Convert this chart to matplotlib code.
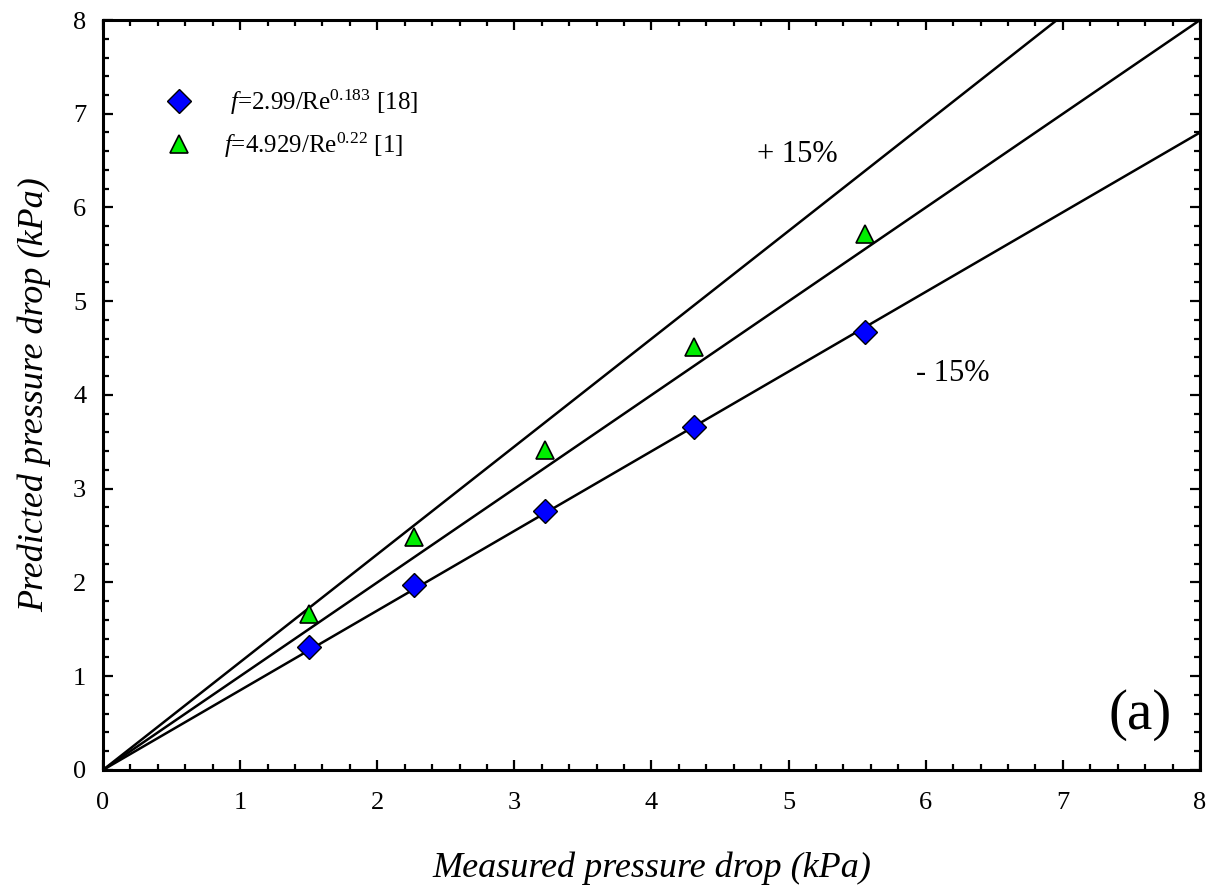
import matplotlib
matplotlib.use("Agg")
import matplotlib.pyplot as plt
import numpy as np
from matplotlib.ticker import MultipleLocator

plt.rcParams['font.family'] = ['Liberation Serif', 'DejaVu Serif']
plt.rcParams['mathtext.fontset'] = 'custom'
plt.rcParams['mathtext.rm'] = 'Liberation Serif'
plt.rcParams['mathtext.it'] = 'Liberation Serif:italic'

# Data
measured = [1.50, 2.27, 3.22, 4.31, 5.56]
pred_f1 = [1.31, 1.97, 2.76, 3.66, 4.67]   # f=2.99/Re^0.183 [18]
pred_f2 = [1.66, 2.49, 3.41, 4.51, 5.72]   # f=4.929/Re^0.22 [1]
label_f1 = r" $\it{f}$=2.99/Re$^{0.183}$ [18]"
label_f2 = r"$\it{f}$=4.929/Re$^{0.22}$ [1]"
ref_factors = [1.15, 1.0, 0.85]
x_ticks = [0, 1, 2, 3, 4, 5, 6, 7, 8]
y_ticks = [0, 1, 2, 3, 4, 5, 6, 7, 8]

fig = plt.figure(figsize=(12.14, 8.89), dpi=100)
ax = fig.add_axes([0.0848, 0.1339, 0.9037, 0.8436])

xx = np.array([0.0, 8.0])
for k in ref_factors:
    ax.plot(xx, k * xx, color='black', lw=1.8, zorder=2)

ax.plot(measured, pred_f1, linestyle='none', marker='D', ms=12,
        markerfacecolor='#0000ff', markeredgecolor='black', markeredgewidth=1.0,
        label=label_f1, zorder=3)
ax.plot(measured, pred_f2, linestyle='none', marker='^', ms=13,
        markerfacecolor='#00ee00', markeredgecolor='black', markeredgewidth=1.2,
        label=label_f2, zorder=3)

ax.set_xlim(0, 8)
ax.set_ylim(0, 8)
ax.set_xticks(x_ticks)
ax.set_yticks(y_ticks)
ax.xaxis.set_minor_locator(MultipleLocator(0.2))
ax.yaxis.set_minor_locator(MultipleLocator(0.2))
ax.tick_params(which='both', direction='in', top=True, right=True, width=1.6)
ax.tick_params(which='major', length=7, labelsize=19)
ax.tick_params(axis='x', which='major', pad=16)
ax.tick_params(axis='y', which='major', pad=12)
ax.tick_params(which='minor', length=4)
for s in ax.spines.values():
    s.set_linewidth(2.2)

ax.set_xlabel('Measured pressure drop (kPa)', fontsize=26, style='italic', labelpad=27)
ax.set_ylabel('Predicted pressure drop (kPa)', fontsize=26, style='italic', labelpad=16)

ax.text(5.06, 6.56, '+ 15%', fontsize=22, ha='center', va='center')
ax.text(6.2, 4.23, '- 15%', fontsize=22, ha='center', va='center')
ax.text(7.56, 0.59, '(a)', fontsize=41, ha='center', va='center')

ax.legend(loc='upper left', bbox_to_anchor=(0.028, 0.94), frameon=False,
          fontsize=18, handletextpad=0.9, labelspacing=0.55, numpoints=1,
          handlelength=1.8)

fig.savefig('out.png', dpi=100)
